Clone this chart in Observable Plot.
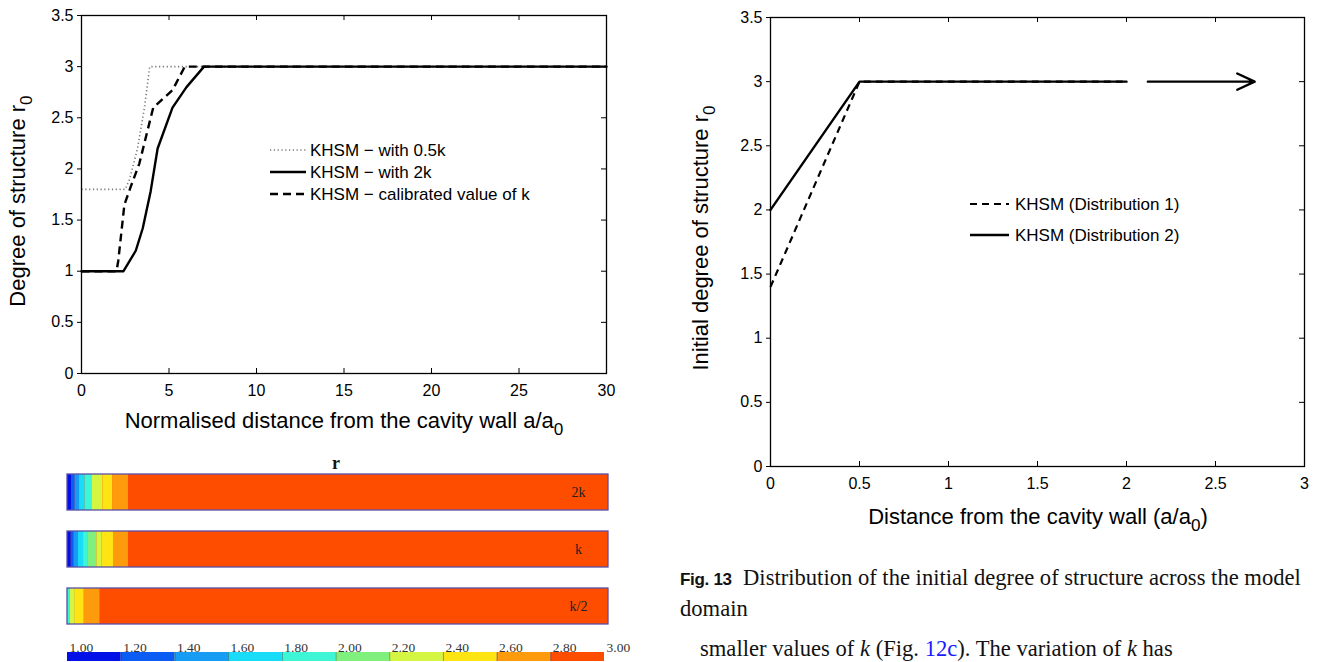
<!DOCTYPE html>
<html><head><meta charset="utf-8">
<script src="https://cdn.jsdelivr.net/npm/d3@7"></script>
<script src="https://cdn.jsdelivr.net/npm/@observablehq/plot@0.6"></script>
<style>
html,body{margin:0;padding:0;background:#fff;width:1319px;height:662px;overflow:hidden;position:relative}
.abs{position:absolute}
.abs svg{display:block}
.cap{font-family:"Liberation Serif","Times New Roman",serif;font-size:22.6px;color:#111;white-space:nowrap}
.cap b{font-family:"Liberation Sans",Arial,sans-serif;font-weight:bold;font-size:17px;letter-spacing:-0.3px}
.blue{color:#1a1aff}
</style></head><body>
<div id="left" class="abs" style="left:0;top:0"></div>
<div id="strips" class="abs" style="left:0;top:440px"></div>
<div id="cbar" class="abs" style="left:0;top:630px"></div>
<div id="right" class="abs" style="left:660px;top:0"></div>
<div class="abs cap" style="left:680px;top:563px;line-height:29px"><b>Fig. 13</b>&nbsp; Distribution of the initial degree of structure across the model<br>domain</div>
<div class="abs cap" style="left:700px;top:637px;line-height:23px">smaller values of <i>k</i> (Fig. <span class="blue">12c</span>). The variation of <i>k</i> has</div>
<script>
// ---------- data ----------
const xTicksL = [0, 5, 10, 15, 20, 25, 30];
const yTicks = [0, 0.5, 1, 1.5, 2, 2.5, 3, 3.5];
// KHSM - with 0.5k (dotted)
const xHalfK = [0, 2.5, 2.75, 3.2, 3.6, 3.9, 30];
const yHalfK = [1.8, 1.8, 1.9, 2.2, 2.6, 3, 3];
// KHSM - with 2k (solid)
const x2K = [0, 2.4, 3.1, 3.5, 3.95, 4.35, 5.2, 6, 7, 30];
const y2K = [1, 1, 1.2, 1.42, 1.78, 2.2, 2.6, 2.8, 3, 3];
// KHSM - calibrated value of k (dashed)
const xCal = [0, 2, 2.1, 2.45, 2.8, 3.3, 4.1, 5.2, 5.9, 30];
const yCal = [1, 1, 1.1, 1.65, 1.82, 2.05, 2.6, 2.77, 3, 3];
const legendLeft = ["KHSM \u2212 with 0.5k", "KHSM \u2212 with 2k", "KHSM \u2212 calibrated value of k"];

// right chart
const xTicksR = [0, 0.5, 1, 1.5, 2, 2.5, 3];
const xDist = [0, 0.5, 2];
const yDist1 = [1.4, 3, 3];
const yDist2 = [2, 3, 3];
const arrowFrom = [2.12, 3];
const arrowTo = [2.72, 3];
const legendRight = ["KHSM (Distribution 1)", "KHSM (Distribution 2)"];

// contour strips (r field)
const stripNames = ["2k", "k", "k/2"];
const stripExtent = [0, 30];
const band2kEdges = [0, 0.24, 0.43, 0.67, 0.98, 1.35, 1.96, 2.5, 3.38];
const band2kLevels = [1, 2, 3, 4, 5, 7, 8, 9];
const bandKEdges = [0, 0.21, 0.37, 0.61, 0.89, 1.16, 1.63, 1.91, 2.55, 3.38];
const bandKLevels = [1, 2, 3, 4, 5, 6, 7, 8, 9];
const bandHalfEdges = [0, 0.15, 0.43, 0.93, 1.8];
const bandHalfLevels = [5, 7, 8, 9];
const cbTicks = [1.0, 1.2, 1.4, 1.6, 1.8, 2.0, 2.2, 2.4, 2.6, 2.8, 3.0];
const levelColors = ["#0010e6", "#0a5cf2", "#169cf2", "#18dcf8", "#3ef5d6", "#7ff07e", "#d4f542", "#ffe414", "#fd9b0c", "#ff4d00"];

// ---------- helpers ----------
const SANS = '"Liberation Sans", Arial, sans-serif';
const SERIF = '"Liberation Serif", "Times New Roman", serif';
const pts = (xs, ys) => xs.map((x, i) => ({x, y: ys[i]}));
const fmt = d => String(d);

function addLabel(svg, {x, y, rotate = 0, text, sub, after = "", size = 22}) {
  const t = d3.select(svg).append("text")
    .attr("transform", `translate(${x},${y})` + (rotate ? ` rotate(${rotate})` : ""))
    .attr("text-anchor", "middle")
    .attr("font-family", SANS).attr("font-size", size).attr("fill", "#000");
  t.append("tspan").text(text);
  t.append("tspan").attr("dy", "0.38em").attr("font-size", "0.78em").text(sub);
  if (after) t.append("tspan").attr("dy", "-0.3em").text(after);
}
function addLegend(svg, items, lx0, lx1, tx, ys, size) {
  const g = d3.select(svg).append("g");
  items.forEach((it, i) => {
    g.append("line").attr("x1", lx0).attr("x2", lx1).attr("y1", ys[i]).attr("y2", ys[i])
      .attr("stroke", it.color).attr("stroke-width", it.w)
      .attr("stroke-dasharray", it.dash || null).attr("stroke-linecap", "butt");
    g.append("text").attr("x", tx).attr("y", ys[i]).attr("dy", "0.35em")
      .attr("text-anchor", "start")
      .attr("font-family", SANS).attr("font-size", size).attr("fill", "#000").text(it.label);
  });
}

// ---------- left chart ----------
const W1 = 640, H1 = 445, mL1 = 81, mR1 = 34, mT1 = 15, mB1 = 72;
const iw1 = W1 - mL1 - mR1, ih1 = H1 - mT1 - mB1;
const leftSvg = Plot.plot({
  width: W1, height: H1, marginLeft: mL1, marginRight: mR1, marginTop: mT1, marginBottom: mB1,
  style: {fontFamily: SANS, fontSize: "16px", color: "#000", background: "transparent", overflow: "visible"},
  x: {domain: [0, 30], ticks: xTicksL, tickFormat: fmt, label: null, tickSize: 0, tickPadding: 11},
  y: {domain: [0, 3.5], ticks: yTicks, tickFormat: fmt, label: null, tickSize: 4, tickPadding: 4},
  marks: [
    Plot.line(pts(xHalfK, yHalfK), {x: "x", y: "y", stroke: "#777", strokeWidth: 1.6, strokeDasharray: "1.2,2.6", strokeLinecap: "butt"}),
    Plot.line(pts(x2K, y2K), {x: "x", y: "y", stroke: "#000", strokeWidth: 2.4}),
    Plot.line(pts(xCal, yCal), {x: "x", y: "y", stroke: "#000", strokeWidth: 2.4, strokeDasharray: "8,5", strokeLinecap: "butt"}),
    Plot.tickX(xTicksL, {x: d => d, insetTop: ih1 - 5, stroke: "#000"}),
    Plot.tickX(xTicksL, {x: d => d, insetBottom: ih1 - 5, stroke: "#000"}),
    Plot.tickY(yTicks, {y: d => d, insetLeft: iw1 - 5, stroke: "#000"}),
    Plot.frame({stroke: "#000", strokeWidth: 1.3})
  ]
});
document.getElementById("left").appendChild(leftSvg);
addLabel(leftSvg, {x: 25, y: 201, rotate: -90, text: "Degree of structure r", sub: "0"});
addLabel(leftSvg, {x: 344, y: 428, text: "Normalised distance from the cavity wall a/a", sub: "0"});
addLegend(leftSvg, [
  {label: legendLeft[0], color: "#777", w: 1.6, dash: "1.2,2.6"},
  {label: legendLeft[1], color: "#000", w: 2.4, dash: null},
  {label: legendLeft[2], color: "#000", w: 2.4, dash: "8,5"}
], 270, 306, 310, [150, 172, 194], 17);

// ---------- strips ----------
const stripRows = stripNames.map(s => ({strip: s, x1: stripExtent[0], x2: stripExtent[1]}));
function bands(strip, edges, levels) {
  return levels.map((lv, i) => ({strip, x1: edges[i], x2: edges[i + 1], fill: levelColors[lv - 1]}));
}
const bandRows = [
  ...bands("2k", band2kEdges, band2kLevels),
  ...bands("k", bandKEdges, bandKLevels),
  ...bands("k/2", bandHalfEdges, bandHalfLevels)
];
const stripSvg = Plot.plot({
  width: 640, height: 190, marginLeft: 67, marginRight: 32, marginTop: 33, marginBottom: 5,
  style: {background: "transparent", overflow: "visible"},
  x: {domain: [0, 30], axis: null},
  y: {domain: stripNames, axis: null, paddingInner: 0.37, paddingOuter: 0},
  color: {type: "identity"},
  marks: [
    Plot.barX(stripRows, {x1: "x1", x2: "x2", y: "strip", fill: levelColors[9]}),
    Plot.barX(bandRows, {x1: "x1", x2: "x2", y: "strip", fill: "fill"}),
    Plot.barX(stripRows, {x1: "x1", x2: "x2", y: "strip", fill: "none", stroke: "#5a4fa6", strokeWidth: 1.3}),
    Plot.text(stripNames, {y: d => d, text: d => d, frameAnchor: "right", dx: -30, textAnchor: "middle", fontFamily: SERIF, fontSize: 14, fill: "#222"})
  ]
});
document.getElementById("strips").appendChild(stripSvg);
d3.select(stripSvg).append("text").attr("x", 336).attr("y", 23).attr("dy", "0.35em")
  .attr("text-anchor", "middle").attr("font-family", SERIF).attr("font-weight", "bold")
  .attr("font-size", 18).attr("fill", "#111").text("r");

// ---------- colour bar ----------
const cbLevels = cbTicks.slice(0, -1).map((v, i) => ({x1: v, x2: cbTicks[i + 1], fill: levelColors[i]}));
const cbSvg = Plot.plot({
  width: 640, height: 32, marginLeft: 67, marginRight: 36, marginTop: 22, marginBottom: 1,
  style: {background: "transparent", overflow: "visible"},
  x: {domain: [1, 3], axis: null},
  color: {type: "identity"},
  marks: [
    Plot.barX(cbLevels, {x1: "x1", x2: "x2", fill: "fill"}),
    Plot.ruleX(cbTicks.slice(1, -1), {x: d => d, stroke: "#333", strokeOpacity: 0.45, strokeWidth: 1}),
    Plot.text(cbTicks, {x: d => d, text: d => d.toFixed(2), frameAnchor: "top", dy: -10, dx: 2, textAnchor: "start", fontFamily: SERIF, fontSize: 13.5, fill: "#333"})
  ]
});
document.getElementById("cbar").appendChild(cbSvg);

// ---------- right chart ----------
const W2 = 659, H2 = 540, mL2 = 110, mR2 = 15, mT2 = 17, mB2 = 74;
const iw2 = W2 - mL2 - mR2, ih2 = H2 - mT2 - mB2;
const rightSvg = Plot.plot({
  width: W2, height: H2, marginLeft: mL2, marginRight: mR2, marginTop: mT2, marginBottom: mB2,
  style: {fontFamily: SANS, fontSize: "16px", color: "#000", background: "transparent", overflow: "visible"},
  x: {domain: [0, 3], ticks: xTicksR, tickFormat: fmt, label: null, tickSize: 0, tickPadding: 11},
  y: {domain: [0, 3.5], ticks: yTicks, tickFormat: fmt, label: null, tickSize: 4, tickPadding: 4},
  marks: [
    Plot.line(pts(xDist, yDist1), {x: "x", y: "y", stroke: "#000", strokeWidth: 2.2, strokeDasharray: "7,5", strokeLinecap: "butt"}),
    Plot.line(pts(xDist, yDist2), {x: "x", y: "y", stroke: "#000", strokeWidth: 2.4}),
    Plot.arrow([{x1: arrowFrom[0], y1: arrowFrom[1], x2: arrowTo[0], y2: arrowTo[1]}],
      {x1: "x1", y1: "y1", x2: "x2", y2: "y2", stroke: "#000", strokeWidth: 2.4, headLength: 12, headAngle: 50}),
    Plot.tickX(xTicksR, {x: d => d, insetTop: ih2 - 5, stroke: "#000"}),
    Plot.tickX(xTicksR, {x: d => d, insetBottom: ih2 - 5, stroke: "#000"}),
    Plot.tickY(yTicks, {y: d => d, insetLeft: iw2 - 5, stroke: "#000"}),
    Plot.frame({stroke: "#000", strokeWidth: 1.3})
  ]
});
document.getElementById("right").appendChild(rightSvg);
addLabel(rightSvg, {x: 48, y: 238, rotate: -90, text: "Initial degree of structure r", sub: "0"});
addLabel(rightSvg, {x: 378, y: 524, text: "Distance from the cavity wall (a/a", sub: "0", after: ")"});
addLegend(rightSvg, [
  {label: legendRight[0], color: "#000", w: 2.2, dash: "7,5"},
  {label: legendRight[1], color: "#000", w: 2.4, dash: null}
], 310, 349, 355, [204, 235], 17);
</script>
</body></html>
